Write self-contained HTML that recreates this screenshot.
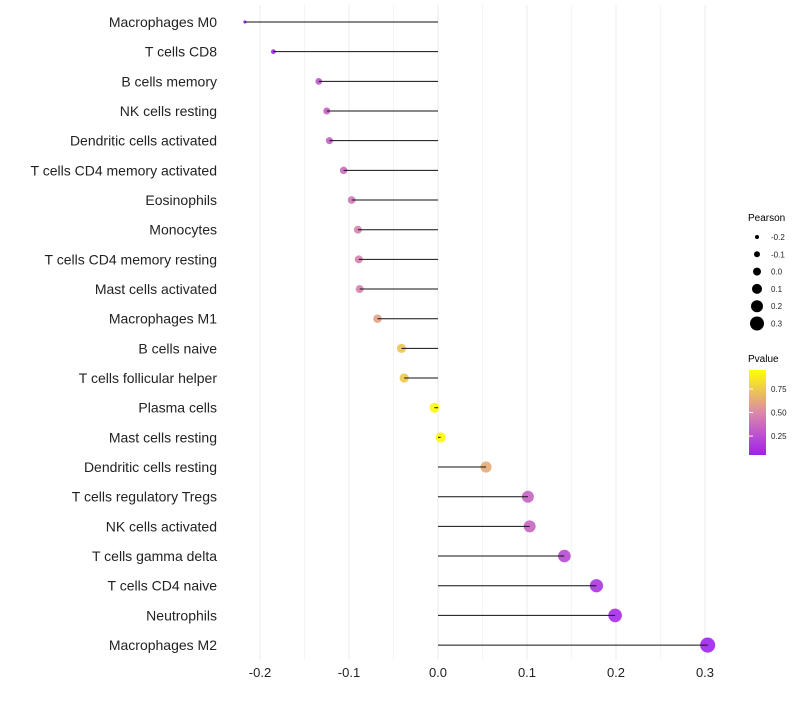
<!DOCTYPE html>
<html><head><meta charset="utf-8"><style>
body{margin:0;background:#fff;font-family:"Liberation Sans",sans-serif}
svg text{font-family:"Liberation Sans",sans-serif}
</style></head><body>
<svg id="chart" width="800" height="700" xmlns="http://www.w3.org/2000/svg">
<defs><linearGradient id="pg" x1="0" y1="1" x2="0" y2="0">
<stop offset="0" stop-color="#a020f0"/><stop offset="0.5" stop-color="#d98aa8"/><stop offset="1" stop-color="#ffff00"/>
</linearGradient></defs>
<g id="grid"></g><g id="marks"></g><g id="labels"></g>
<g>
<text x="748" y="221" font-size="10">Pearson</text>
<g id="sizeleg"></g>
<text x="748" y="362" font-size="10">Pvalue</text>
<rect x="749" y="370" width="17" height="85" fill="url(#pg)"/>
<g id="colleg"></g>
</g>
</svg>
<script>
const categories=["Macrophages M0","T cells CD8","B cells memory","NK cells resting","Dendritic cells activated","T cells CD4 memory activated","Eosinophils","Monocytes","T cells CD4 memory resting","Mast cells activated","Macrophages M1","B cells naive","T cells follicular helper","Plasma cells","Mast cells resting","Dendritic cells resting","T cells regulatory  Tregs ","NK cells activated","T cells gamma delta","T cells CD4 naive","Neutrophils","Macrophages M2"];
const pearson=[-0.217,-0.185,-0.134,-0.125,-0.122,-0.106,-0.097,-0.090,-0.089,-0.088,-0.068,-0.041,-0.038,-0.004,0.003,0.054,0.101,0.103,0.142,0.178,0.199,0.303];
const pvalue=[0.01,0.05,0.25,0.3,0.3,0.35,0.42,0.46,0.46,0.47,0.6,0.75,0.77,0.97,0.98,0.65,0.32,0.33,0.2,0.1,0.05,0.01];
const xTicks=[-0.2,-0.1,0.0,0.1,0.2,0.3];
const sizeTicks=[-0.2,-0.1,0.0,0.1,0.2,0.3];
const colTicks=[0.25,0.5,0.75];
const NS="http://www.w3.org/2000/svg";
const x=v=>438+v*890;
const y=i=>22+i*29.67;
const r=v=>Math.sqrt(2.5+105*Math.max(0,v+0.217));
const rl=v=>4+v*10;
const py=p=>455-(p-0.05)/0.9*85;
function lerp(a,b,t){return a.map((c,k)=>Math.round(c+(b[k]-c)*t));}
function col(p){const A=[160,32,240],M=[217,138,168],B=[255,255,0];const c=p<0.5?lerp(A,M,p/0.5):lerp(M,B,(p-0.5)/0.5);return `rgb(${c})`;}
function mk(tag,at,parent){const e=document.createElementNS(NS,tag);for(const k in at)e.setAttribute(k,at[k]);document.getElementById(parent).appendChild(e);return e;}
for(let k=-4;k<=6;k++){const v=k*0.05;const g=mk('line',{x1:x(v),x2:x(v),y1:5,y2:660,stroke:k%2===0?'#ebebeb':'#f4f4f4','stroke-width':1},'grid');

}
xTicks.forEach(t=>{const e=mk('text',{x:x(t),y:677,'font-size':13,'text-anchor':'middle',fill:'#222'},'labels');e.textContent=t.toFixed(1);

});
categories.forEach((c,i)=>{
const t=mk('text',{x:217,y:y(i)+5,'font-size':14,'text-anchor':'end',fill:'#222'},'labels');t.textContent=c;


const p=mk('circle',{cx:x(pearson[i]),cy:y(i),r:r(pearson[i]),fill:col(pvalue[i]),'fill-opacity':0.9},'marks');


const l=mk('line',{x1:x(0),x2:x(pearson[i]),y1:y(i),y2:y(i),stroke:'#111','stroke-width':1},'marks');


});
sizeTicks.forEach((s,i)=>{const yy=237+i*17.3;
const c=mk('circle',{cx:757,cy:yy,r:rl(s),fill:'#000'},'sizeleg');


const t=mk('text',{x:771,y:yy+3,'font-size':8,fill:'#222'},'sizeleg');t.textContent=s.toFixed(1);

});
colTicks.forEach(p=>{const yy=py(p);
const k=mk('line',{x1:749,x2:753,y1:yy,y2:yy,stroke:'#fff'},'colleg');


const t=mk('text',{x:771,y:yy+3,'font-size':8,fill:'#222'},'colleg');t.textContent=p.toFixed(2);

});
</script>
</body></html>
